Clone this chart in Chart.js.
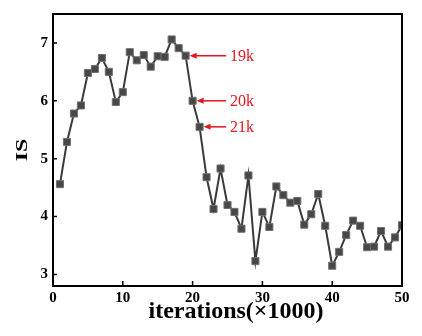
<!DOCTYPE html>
<html>
<head>
<meta charset="utf-8">
<script src="https://cdn.jsdelivr.net/npm/chart.js@4/dist/chart.umd.min.js"></script>
<style>
  body { margin: 0; background: #fff; }
  #wrap { width: 422px; height: 336px; }
</style>
</head>
<body>
<div id="wrap"><canvas id="isChart" width="422" height="336"></canvas></div>
<script>
// iterations (x1000) and the IS value read at each one
const iterations = [1, 2, 3, 4, 5, 6, 7, 8, 9, 10,
    11, 12, 13, 14, 15, 16, 17, 18, 19, 20,
    21, 22, 23, 24, 25, 26, 27, 28, 29, 30,
    31, 32, 33, 34, 35, 36, 37, 38, 39, 40,
    41, 42, 43, 44, 45, 46, 47, 48, 49, 50];
const isValues = [4.56, 5.29, 5.78, 5.92, 6.48, 6.55, 6.74, 6.50, 5.98, 6.15,
    6.84, 6.70, 6.79, 6.59, 6.77, 6.76, 7.06, 6.91, 6.78, 6.00,
    5.55, 4.68, 4.13, 4.83, 4.20, 4.08, 3.79, 4.71, 3.23, 4.08,
    3.82, 4.52, 4.37, 4.24, 4.27, 3.86, 4.04, 4.39, 3.84, 3.15,
    3.39, 3.68, 3.93, 3.84, 3.47, 3.48, 3.75, 3.48, 3.64, 3.85];

const xTicks = [0, 10, 20, 30, 40, 50];
const yTicks = [3, 4, 5, 6, 7];

// red arrow callouts
const markedIters = [19, 20, 21];
const markedLabels = ['19k', '20k', '21k'];
const arrowTailIter = 24.8;

const serif = '"Liberation Serif", "Times New Roman", serif';

const framePlugin = {
    id: 'frame',
    afterDraw(chart) {
        const c = chart.ctx;
        const a = chart.chartArea;
        const xs = chart.scales.x, ys = chart.scales.y;
        c.save();
        c.strokeStyle = '#000';
        c.lineWidth = 2;
        c.strokeRect(a.left, a.top, a.right - a.left, a.bottom - a.top);
        // inward ticks
        c.lineWidth = 1.5;
        c.beginPath();
        xTicks.forEach(v => {
            const px = xs.getPixelForValue(v);
            c.moveTo(px, a.bottom);
            c.lineTo(px, a.bottom - 5);
        });
        yTicks.forEach(v => {
            const py = ys.getPixelForValue(v);
            c.moveTo(a.left, py);
            c.lineTo(a.left + 4, py);
        });
        c.stroke();

        // callouts
        c.strokeStyle = '#e8141c';
        c.fillStyle = '#e8141c';
        c.font = '16px ' + serif;
        c.textBaseline = 'middle';
        c.textAlign = 'left';
        markedIters.forEach((it, i) => {
            const idx = iterations.indexOf(it);
            const py = ys.getPixelForValue(isValues[idx]);
            const tip = xs.getPixelForValue(it) + 4;
            const tail = xs.getPixelForValue(arrowTailIter);
            c.lineWidth = 1.5;
            c.beginPath();
            c.moveTo(tail, py);
            c.lineTo(tip + 5, py);
            c.stroke();
            c.beginPath();
            c.moveTo(tip, py);
            c.lineTo(tip + 7, py - 3);
            c.lineTo(tip + 7, py + 3);
            c.closePath();
            c.fill();
            c.fillText(markedLabels[i], tail + 4, py + 1);
        });

        // axis titles
        c.fillStyle = '#000';
        c.font = 'bold 24px ' + serif;
        c.textAlign = 'center';
        c.fillText('iterations(\u00d71000)', 236, 312);
        c.save();
        c.translate(23, 150);
        c.rotate(-Math.PI / 2);
        c.scale(1, 0.7);
        c.fillText('IS', 0, 0);
        c.restore();
        c.restore();
    }
};

const ctx = document.getElementById('isChart').getContext('2d');
new Chart(ctx, {
    type: 'line',
    data: {
        datasets: [{
            data: iterations.map((x, i) => ({ x: x, y: isValues[i] })),
            borderColor: '#3a3a3a',
            borderWidth: 2,
            pointStyle: 'rect',
            pointRadius: 5,
            pointBackgroundColor: '#474747',
            pointBorderColor: '#707070',
            pointBorderWidth: 1,
            tension: 0,
            fill: false
        }]
    },
    options: {
        responsive: false,
        animation: false,
        layout: { padding: { left: 0, top: 12, right: 20, bottom: 0 } },
        plugins: {
            legend: { display: false },
            tooltip: { enabled: false }
        },
        scales: {
            x: {
                type: 'linear',
                min: 0,
                max: 50,
                afterBuildTicks: s => { s.ticks = xTicks.map(v => ({ value: v })); },
                afterFit: s => { s.height = 50; },
                grid: { display: false, drawTicks: false },
                border: { display: false },
                ticks: {
                    color: '#000',
                    padding: 3,
                    maxRotation: 0,
                    font: { family: serif, size: 15, weight: 'bold' }
                }
            },
            y: {
                min: 2.8,
                max: 7.5,
                afterBuildTicks: s => { s.ticks = yTicks.map(v => ({ value: v })); },
                afterFit: s => { s.width = 53; },
                grid: { display: false, drawTicks: false },
                border: { display: false },
                ticks: {
                    color: '#000',
                    padding: 5,
                    font: { family: serif, size: 15, weight: 'bold' }
                }
            }
        }
    },
    plugins: [framePlugin]
});
</script>
</body>
</html>
